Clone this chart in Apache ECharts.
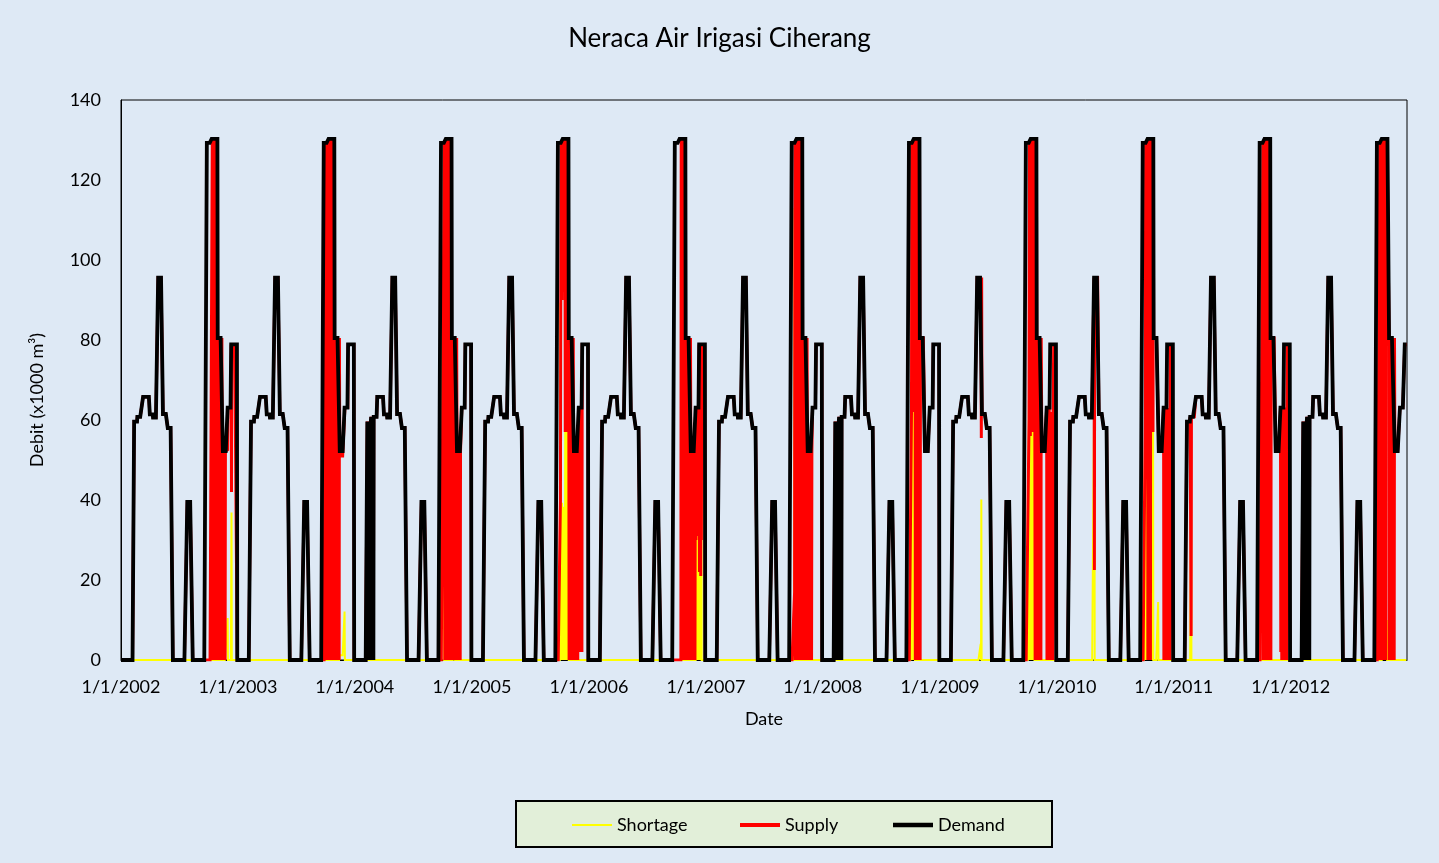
<!DOCTYPE html>
<html>
<head>
<meta charset="utf-8">
<script src="https://cdn.jsdelivr.net/npm/echarts@6/dist/echarts.min.js"></script>
<style>
html,body{margin:0;padding:0;background:#DEE9F5;}
#c{width:1439px;height:863px;}
</style>
</head>
<body>
<div id="c"></div>
<script>
// ---------------- DATA ----------------
const years = [2002,2003,2004,2005,2006,2007,2008,2009,2010,2011,2012];
const tickLabels = ['1/1/2002','1/1/2003','1/1/2004','1/1/2005','1/1/2006','1/1/2007','1/1/2008','1/1/2009','1/1/2010','1/1/2011','1/1/2012'];
const firstDay = '2002-01-01';
const lastDay = '2012-12-29';

// yearly irrigation demand schedule: [month-day the value starts, demand (x1000 m3)]
const demandSchedule = [
  ['01-01', 0], ['02-11', 59.6], ['02-21', 60.8], ['03-11', 65.8], ['04-01', 61.4],
  ['04-11', 60.6], ['04-27', 95.6], ['05-12', 61.5], ['05-27', 58.0], ['06-12', 0],
  ['07-27', 39.5], ['08-13', 0], ['09-26', 129.3], ['10-11', 130.3], ['10-30', 80.5],
  ['11-15', 52.2], ['11-30', 63.1], ['12-11', 78.9], ['12-30', 0]
];

// demand values that differ from the schedule: [date, value] or [from, to, value]
const demandOverrides = [
  ['2004-02-09','2004-02-10',59.6],['2004-02-13',0],['2004-02-16',0],['2004-02-19',0],['2004-02-22',0],['2004-02-25',0],['2004-02-28',0],
  ['2008-02-09','2008-02-10',59.6],['2008-02-13',0],['2008-02-16',0],['2008-02-19',0],['2008-02-22',0],['2008-02-25',0],['2008-02-28',0],
  ['2012-02-09','2012-02-10',59.6],['2012-02-13',0],['2012-02-16',0],['2012-02-19',0],['2012-02-22',0],['2012-02-25',0],['2012-02-28',0],
  ['2012-10-30','2012-11-02',130.3],['2012-11-03','2012-11-20',80.5],['2012-11-21','2012-12-06',52.2],
  ['2012-12-07','2012-12-21',63.1],['2012-12-22','2012-12-29',78.9]
];

// days on which supply differs from demand: [date, value] or [from, to, value]
const supplyOverrides = [
  // 2002
  ['2002-09-26','2002-10-12',0],
  ['2002-10-15',0],['2002-10-18',0],['2002-10-21',0],['2002-10-24',0],['2002-10-27',0],
  ['2002-10-30',0],['2002-11-02',0],['2002-11-05',0],['2002-11-08',0],['2002-11-11',0],['2002-11-14',0],
  ['2002-11-17',0],['2002-11-20',0],['2002-11-22',0],
  ['2002-11-30',52.6],['2002-12-12',42],
  // 2003
  ['2003-09-26','2003-10-02',0],
  ['2003-10-04',0],['2003-10-07',70],['2003-10-11',0],['2003-10-14',0],['2003-10-17',0],['2003-10-20',0],
  ['2003-10-23',0],['2003-10-26',0],['2003-10-29',0],
  ['2003-11-01',0],['2003-11-04',0],['2003-11-07',0],['2003-11-10',0],['2003-11-13',0],
  ['2003-11-15','2003-11-30',51],
  // 2004
  ['2004-09-26','2004-10-05',0],
  ['2004-10-08',0],['2004-10-11',0],['2004-10-14',0],['2004-10-17',0],['2004-10-20',0],['2004-10-23',0],
  ['2004-10-26',0],['2004-10-29',0],['2004-11-01',0],['2004-11-04',0],['2004-11-07',0],['2004-11-10',0],
  ['2004-11-13',0],['2004-11-16',0],['2004-11-19',0],['2004-11-22',0],['2004-11-25',0],
  // 2005
  ['2005-09-26','2005-10-03',0],
  ['2005-10-04',40],
  ['2005-10-05',92],['2005-10-07',95],['2005-10-09',90],['2005-10-11',98],['2005-10-13',92],['2005-10-15',95],['2005-10-17',92],
  ['2005-10-19',57],['2005-10-21',60],['2005-10-23',57],['2005-10-25',62],['2005-10-27',57],['2005-10-29',58],
  ['2005-10-31',0],['2005-11-03',0],['2005-11-06',0],['2005-11-09',0],['2005-11-12',0],
  ['2005-11-15',0],['2005-11-18',0],['2005-11-21',0],['2005-11-24',0],['2005-11-27',0],
  ['2005-12-01',2],['2005-12-04',2],['2005-12-07',2],['2005-12-10',2],
  // 2006
  ['2006-09-26','2006-10-15',0],
  ['2006-10-17',0],['2006-10-20',0],['2006-10-23',0],['2006-10-26',0],['2006-10-29',0],
  ['2006-11-01',0],['2006-11-04',0],['2006-11-07',0],['2006-11-10',0],['2006-11-13',0],
  ['2006-11-16',0],['2006-11-19',0],['2006-11-22',0],['2006-11-25',0],['2006-11-28',0],
  ['2006-12-01',30],['2006-12-03',35],['2006-12-05',31],['2006-12-07',38],['2006-12-09',32],
  ['2006-12-12',22],['2006-12-14',26],['2006-12-16',21],['2006-12-18',30],
  // 2007
  ['2007-09-26','2007-10-04',0],
  ['2007-10-05',17],
  ['2007-10-07',0],['2007-10-10',0],['2007-10-13',0],['2007-10-16',0],['2007-10-19',0],['2007-10-22',0],
  ['2007-10-25',0],['2007-10-28',0],['2007-10-31',0],['2007-11-03',0],['2007-11-06',0],['2007-11-09',0],
  ['2007-11-12',0],['2007-11-15',0],['2007-11-18',0],['2007-11-21',0],['2007-11-24',0],['2007-11-27',0],
  // 2008
  ['2008-09-26','2008-10-03',0],
  ['2008-10-04',62],['2008-10-06',65],['2008-10-08',62],['2008-10-10',70],['2008-10-12',62],['2008-10-14',66],
  ['2008-10-16',0],['2008-10-19',0],['2008-10-22',0],['2008-10-25',0],['2008-10-28',0],['2008-10-31',0],
  // 2009
  ['2009-05-08',91.6],['2009-05-10',55.5],
  ['2009-09-26','2009-10-05',0],
  ['2009-10-06',60],['2009-10-08',62],['2009-10-10',56],['2009-10-12',66],['2009-10-14',58],['2009-10-16',70],
  ['2009-10-18',57],['2009-10-20',60],['2009-10-22',58],
  ['2009-10-25',0],['2009-10-28',0],['2009-10-31',0],['2009-11-03',0],['2009-11-06',0],['2009-11-09',0],['2009-11-12',0],
  ['2009-12-11','2009-12-21',62],
  ['2009-12-01',0],['2009-12-04',0],['2009-12-07',0],['2009-12-10',0],['2009-12-13',0],['2009-12-16',0],['2009-12-19',0],
  // 2010
  ['2010-04-28',22.5],
  ['2010-09-26','2010-10-03',0],
  ['2010-10-04',61],['2010-10-06',60],['2010-10-08',62],['2010-10-10',60],
  ['2010-10-12',0],['2010-10-14',39.3],['2010-10-16',0],['2010-10-18',0],['2010-10-20',0],
  ['2010-10-22',57],['2010-10-24',57],['2010-10-26',58],['2010-10-28',57],
  ['2010-12-11','2010-12-20',63],
  ['2010-12-01',0],['2010-12-04',0],['2010-12-07',0],['2010-12-10',0],['2010-12-13',0],['2010-12-16',0],['2010-12-19',0],
  // 2011
  ['2011-02-24',6],
  ['2011-09-26','2011-10-05',0],
  ['2011-10-07',0],['2011-10-10',0],['2011-10-13',0],['2011-10-16',0],['2011-10-19',0],['2011-10-22',0],
  ['2011-10-25',0],['2011-10-28',0],['2011-10-31',0],
  ['2011-12-11','2011-12-20',63.1],
  ['2011-12-01',2],['2011-12-04',0],['2011-12-07',3],['2011-12-10',0],['2011-12-13',2],['2011-12-16',0],['2011-12-19',0],
  // 2012
  ['2012-09-26','2012-10-04',0],
  ['2012-10-06',0],['2012-10-09',0],['2012-10-12',0],['2012-10-15',0],['2012-10-18',30],['2012-10-21',0],['2012-10-24',0],
  ['2012-10-27',120.3],
  ['2012-11-04',0],['2012-11-07',0],['2012-11-10',0],['2012-11-13',0],['2012-11-16',0],['2012-11-19',0]
];

// days with a non-zero shortage: [date, value] or [from, to, value]
const shortageValues = [
  ['2002-11-30',10.5],['2002-12-12',36.9],
  ['2003-10-07',60],['2003-11-15','2003-11-29',1.2],['2003-11-30',12.1],
  ['2004-09-26','2004-10-05',129.3],['2004-11-08',4],['2004-11-20',4],
  ['2005-10-04',89.3],['2005-10-05',37.3],['2005-10-07',34.3],['2005-10-09',39.3],['2005-10-11',32.3],
  ['2005-10-13',38.3],['2005-10-15',35.3],['2005-10-17',38.3],
  ['2005-10-19',73.3],['2005-10-21',70.3],['2005-10-23',73.3],['2005-10-25',68.3],['2005-10-27',73.3],['2005-10-29',72.3],
  ['2006-12-01',33.1],['2006-12-03',28.1],['2006-12-05',32.1],['2006-12-07',25.1],['2006-12-09',31.1],
  ['2006-12-12',56.9],['2006-12-14',52.9],['2006-12-16',57.9],['2006-12-18',48.9],
  ['2007-10-05',113],
  ['2008-10-04',67.3],['2008-10-06',64.3],['2008-10-08',67.3],['2008-10-10',59.3],['2008-10-12',68.3],['2008-10-14',64.3],
  ['2009-05-08',4],['2009-05-10',40.1],
  ['2009-10-06',69.3],['2009-10-08',67.3],['2009-10-10',73.3],['2009-10-12',64.3],['2009-10-14',72.3],
  ['2009-10-16',60.3],['2009-10-18',73.3],['2009-10-20',70.3],['2009-10-22',72.3],
  ['2010-04-28',73.1],
  ['2010-10-04',68.3],['2010-10-06',69.3],['2010-10-08',67.3],['2010-10-10',69.3],['2010-10-14',91],
  ['2010-10-22',73.3],['2010-10-24',73.3],['2010-10-26',72.3],['2010-10-28',73.3],
  ['2010-11-13',14.5],
  ['2011-02-24',54.8],
  ['2012-10-18',100.3],['2012-10-27',10]
];

// ---------------- BUILD DAILY SERIES ----------------
const DAY = 86400000;
const T0 = Date.UTC(2002, 0, 1);
function dayIndex(s) {
  const p = s.split('-').map(Number);
  return Math.round((Date.UTC(p[0], p[1] - 1, p[2]) - T0) / DAY);
}
const N = dayIndex(lastDay) + 1;
function applyEntries(arr, entries) {
  entries.forEach(function (e) {
    const from = dayIndex(e[0]);
    const to = e.length === 3 ? dayIndex(e[1]) : from;
    const v = e[e.length - 1];
    for (let i = from; i <= to && i < N; i++) arr[i] = v;
  });
}
const demand = new Array(N).fill(0);
years.forEach(function (y) {
  demandSchedule.forEach(function (s, k) {
    const from = dayIndex(y + '-' + s[0]);
    const next = k + 1 < demandSchedule.length ? dayIndex(y + '-' + demandSchedule[k + 1][0]) : dayIndex((y + 1) + '-01-01');
    for (let i = from; i < next && i < N; i++) demand[i] = s[1];
  });
});
applyEntries(demand, demandOverrides);
const supply = demand.slice();
applyEntries(supply, supplyOverrides);
const shortage = new Array(N).fill(0);
applyEntries(shortage, shortageValues);

const yearStarts = years.map(function (y) { return dayIndex(y + '-01-01'); });
function pairs(a) { return a.map(function (v, i) { return [i, v]; }); }

// ---------------- CHART ----------------
const FONT = 'Lato, "Open Sans", sans-serif';
const chart = echarts.init(document.getElementById('c'), null, { renderer: 'canvas' });
function legendFor(name, left, h) {
  return {
    left: left, top: 816, padding: 0, icon: 'rect',
    itemWidth: 40, itemHeight: h, itemGap: 0, selectedMode: false,
    textStyle: { fontSize: 18, color: '#000', fontFamily: FONT },
    data: [name]
  };
}
chart.setOption({
  backgroundColor: '#DEE9F5',
  animation: false,
  title: {
    text: 'Neraca Air Irigasi Ciherang',
    left: 'center', top: 21,
    textStyle: { fontSize: 26, fontWeight: 'normal', color: '#000', fontFamily: FONT }
  },
  graphic: [
    {
      type: 'rect', left: 515, top: 800,
      shape: { width: 536, height: 46 },
      style: { fill: '#E2EFD9', stroke: '#000', lineWidth: 2 },
      z: -1
    },
    {
      type: 'text', x: 37, y: 400, rotation: Math.PI / 2,
      style: { text: 'Debit (x1000 m³)', fontSize: 18, fill: '#000', fontFamily: FONT, align: 'center', verticalAlign: 'middle' }
    }
  ],
  legend: [
    legendFor('Shortage', 572, 2),
    legendFor('Supply', 740, 4),
    legendFor('Demand', 893, 4.5)
  ],
  grid: {
    left: 121, top: 100, width: 1286, height: 560,
    show: true, borderColor: '#000', borderWidth: 1, backgroundColor: 'transparent'
  },
  xAxis: {
    type: 'value', min: 0, max: N - 1,
    name: 'Date', nameLocation: 'middle', nameGap: 50,
    nameTextStyle: { fontSize: 18, color: '#000', fontFamily: FONT },
    splitLine: { show: false },
    axisTick: { show: false },
    axisLine: { show: true, lineStyle: { color: '#000', width: 1 } },
    axisLabel: {
      customValues: yearStarts,
      fontSize: 18, color: '#000', fontFamily: FONT, margin: 18,
      formatter: function (v) { const k = yearStarts.indexOf(v); return k >= 0 ? tickLabels[k] : ''; }
    }
  },
  yAxis: {
    type: 'value', min: 0, max: 140, interval: 20,
    splitLine: { show: false },
    axisTick: { show: false },
    axisLine: { show: true, lineStyle: { color: '#000', width: 1 } },
    axisLabel: { fontSize: 18, color: '#000', fontFamily: FONT, margin: 20 }
  },
  series: [
    {
      name: 'Shortage', type: 'line', data: pairs(shortage),
      showSymbol: false, symbol: 'none',
      lineStyle: { color: '#FFFF00', width: 2, join: 'miter', miterLimit: 3 }, itemStyle: { color: '#FFFF00' }, z: 2
    },
    {
      name: 'Supply', type: 'line', data: pairs(supply),
      showSymbol: false, symbol: 'none',
      lineStyle: { color: '#FF0000', width: 3, join: 'miter', miterLimit: 3 }, itemStyle: { color: '#FF0000' }, z: 3
    },
    {
      name: 'Demand', type: 'line', data: pairs(demand),
      showSymbol: false, symbol: 'none',
      lineStyle: { color: '#000000', width: 3.8, join: 'miter', miterLimit: 3 }, itemStyle: { color: '#000000' }, z: 4
    }
  ]
});
</script>
</body>
</html>
